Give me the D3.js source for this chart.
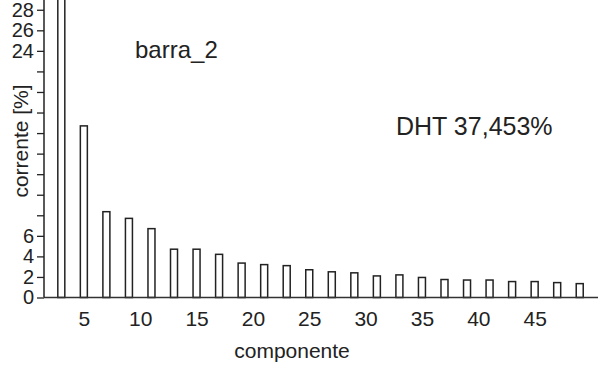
<!DOCTYPE html>
<html>
<head>
<meta charset="utf-8">
<script src="https://d3js.org/d3.v7.min.js"></script>
<style>
    body { margin: 0; background: #fff; }
    svg { display: block; }
    text { font-family: "Liberation Sans", Arial, sans-serif; fill: #222; }
</style>
</head>
<body>
<div id="chart"></div>
<script>

// harmonic order of each bar
var harmonics = [3, 5, 7, 9, 11, 13, 15, 17, 19, 21, 23, 25, 27, 29, 31, 33, 35, 37, 39, 41, 43, 45, 47, 49];

// current of each harmonic, % (bar 3 goes off the top)
var corrente = [35, 16.7, 8.35, 7.7, 6.7, 4.7, 4.7, 4.2, 3.35, 3.2, 3.1, 2.7, 2.5, 2.4, 2.1, 2.2, 1.95, 1.75, 1.7, 1.7, 1.55, 1.55, 1.45, 1.35];

var xTickValues = [5, 10, 15, 20, 25, 30, 35, 40, 45];
var yTickValues = [0, 2, 4, 6, 8, 10, 12, 14, 16, 18, 20, 22, 24, 26, 28];
var yTickLabels = [0, 2, 4, 6, 24, 26, 28];

var titulo = "barra_2";
var dht = "DHT 37,453%";

(function () {

    "use strict";

    var width = 598,
        height = 365,
        axisX = 44,
        baseY = 297.5;

    var svg = d3.select("#chart")
        .append("svg")
        .attr("width", width)
        .attr("height", height);

    var x = d3.scaleLinear().domain([0, 50]).range([27.5, 591]);
    var y = d3.scaleLinear().domain([0, 28.95]).range([baseY, 0]);

    var bw = 7;

    // bars, drawn as open outlines
    svg.append("g")
        .selectAll("rect")
        .data(harmonics)
        .enter()
        .append("rect")
            .attr("x", function (d) { return x(d) - bw / 2; })
            .attr("y", function (d, i) { return y(corrente[i]); })
            .attr("width", bw)
            .attr("height", function (d, i) { return baseY - y(corrente[i]); })
            .attr("fill", "#fff")
            .attr("stroke", "#222")
            .attr("stroke-width", 1.5);

    // baseline
    svg.append("line")
        .attr("x1", axisX).attr("x2", width)
        .attr("y1", baseY).attr("y2", baseY)
        .attr("stroke", "#333")
        .attr("stroke-width", 1.5);

    // y axis
    var yAxis = d3.axisLeft(y)
        .tickValues(yTickValues)
        .tickSize(7)
        .tickPadding(3)
        .tickFormat(function (d) { return yTickLabels.indexOf(d) >= 0 ? d : ""; });

    var gy = svg.append("g")
        .attr("transform", "translate(" + axisX + ",0)")
        .call(yAxis);

    gy.select(".domain").remove();
    gy.selectAll("line").attr("stroke", "#222").attr("stroke-width", 1.3);
    gy.selectAll("text")
        .attr("font-size", 20)
        .attr("font-family", "Liberation Sans, Arial, sans-serif")
        .attr("fill", "#222");

    gy.append("line")
        .attr("x1", 0).attr("x2", 0)
        .attr("y1", 0).attr("y2", baseY)
        .attr("stroke", "#222")
        .attr("stroke-width", 1.5);

    // x tick labels, no tick marks
    var xAxis = d3.axisBottom(x)
        .tickValues(xTickValues)
        .tickSize(0)
        .tickPadding(14);

    var gx = svg.append("g")
        .attr("transform", "translate(0," + baseY + ")")
        .call(xAxis);

    gx.select(".domain").remove();
    gx.selectAll("text")
        .attr("font-size", 21)
        .attr("font-family", "Liberation Sans, Arial, sans-serif")
        .attr("fill", "#222");

    // titles
    svg.append("text")
        .attr("x", 292).attr("y", 358)
        .attr("text-anchor", "middle")
        .attr("font-size", 21)
        .text("componente");

    svg.append("text")
        .attr("transform", "translate(28,141) rotate(-90)")
        .attr("text-anchor", "middle")
        .attr("font-size", 21)
        .text("corrente [%]");

    svg.append("text")
        .attr("x", 135).attr("y", 58)
        .attr("font-size", 24)
        .text(titulo);

    svg.append("text")
        .attr("x", 396).attr("y", 135)
        .attr("font-size", 25)
        .text(dht);

}());

</script>
</body>
</html>
